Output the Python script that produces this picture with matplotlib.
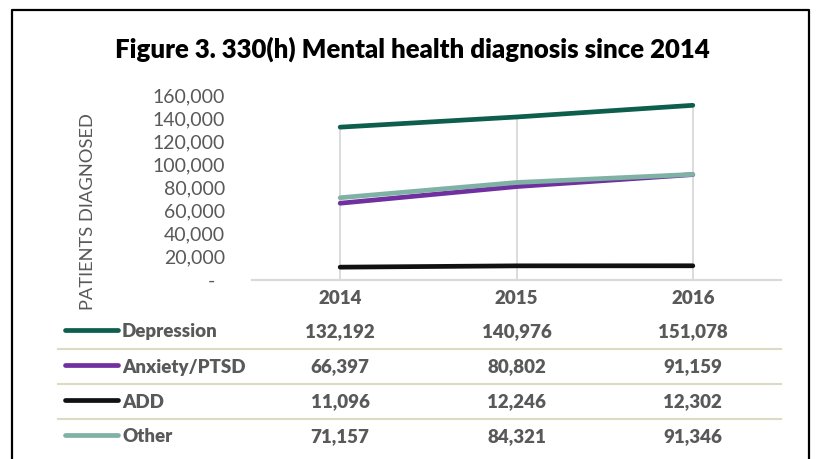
import matplotlib.pyplot as plt
import numpy as np
from matplotlib.lines import Line2D

years = ['2014', '2015', '2016']
series = ['Depression', 'Anxiety/PTSD', 'ADD', 'Other']
depression = [132192, 140976, 151078]
anxiety = [66397, 80802, 91159]
add = [11096, 12246, 12302]
other = [71157, 84321, 91346]
values = [depression, anxiety, add, other]
colors = ['#0d5e4c', '#7030a0', '#111111', '#7fb2a5']

W, H = 817, 459
plt.rcParams['font.family'] = ['Lato', 'DejaVu Sans']
fig = plt.figure(figsize=(W / 100, H / 100), dpi=100)


def fx(px):
    return px / W


def fy(py):
    return 1 - py / H


# plot area in pixels
left, right, top, bottom = 252, 781, 95, 280
ax = fig.add_axes([fx(left), fy(bottom), fx(right - left), (bottom - top) / H])
x = np.arange(len(years))

# drop lines to the highest series
tops = np.max(np.array(values), axis=0)
ax.vlines(x, 0, tops, color='#d9d9d9', lw=1.3, zorder=1)

# draw in order so Other sits on top of Anxiety
for vals, c in zip(values, colors):
    ax.plot(x, vals, color=c, lw=3.4, solid_capstyle='round', zorder=3)

ax.set_xlim(-0.5, 2.5)
ax.set_ylim(0, 160000)
ax.set_yticks(range(0, 160001, 20000))
ax.set_yticklabels(['-  '] + [f'{v:,}' for v in range(20000, 160001, 20000)],
                   fontsize=14, color='#595959')
ax.tick_params(axis='y', length=0, pad=19.5)
ax.set_xticks([])
for s in ['top', 'right', 'left']:
    ax.spines[s].set_visible(False)
ax.spines['bottom'].set_color('#d9d9d9')
ax.spines['bottom'].set_linewidth(1.6)

fig.text(fx(88), fy(212), 'PATIENTS DIAGNOSED', rotation=90, ha='center', va='center',
         fontsize=13.2, color='#595959')

fig.text(fx(412), fy(49), 'Figure 3. 330(h) Mental health diagnosis since 2014',
         ha='center', va='center', fontsize=18.5, fontweight='heavy', color='black')

# data table
cat_px = [left + (i + 0.5) * (right - left) / 3 for i in range(3)]
for xp, yr in zip(cat_px, years):
    fig.text(fx(xp), fy(299), yr, ha='center', va='center', fontsize=13.5,
             fontweight='heavy', color='#595959')

row_y = [330, 365, 400, 435]
for i, (name, vals, c) in enumerate(zip(series, values, colors)):
    ry = row_y[i]
    fig.add_artist(Line2D([fx(65), fx(118)], [fy(ry), fy(ry)], color=c, lw=3.4,
                          solid_capstyle='round'))
    fig.text(fx(122), fy(ry + 2), name, ha='left', va='center', fontsize=13.5,
             fontweight='heavy', color='#595959')
    for xp, v in zip(cat_px, vals):
        fig.text(fx(xp), fy(ry + 2), f'{v:,}', ha='center', va='center', fontsize=13.5,
                 fontweight='heavy', color='#595959')
    if i < 3:
        sy = (row_y[i] + row_y[i + 1]) / 2 + 1
        fig.add_artist(Line2D([fx(58), fx(781)], [fy(sy), fy(sy)], color='#ddd9c3', lw=1.5))

# chart frame
fig.add_artist(Line2D([fx(12), fx(12), fx(809), fx(809)], [fy(470), fy(10), fy(10), fy(470)],
                      color='black', lw=1.6))

fig.savefig('out.png', dpi=100)
